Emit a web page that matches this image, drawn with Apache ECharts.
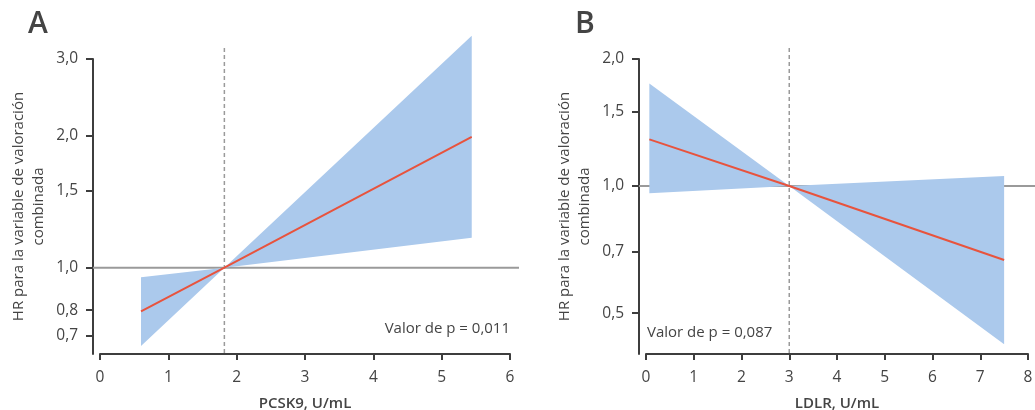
<!DOCTYPE html>
<html>
<head>
<meta charset="utf-8">
<script src="https://cdn.jsdelivr.net/npm/echarts@6/dist/echarts.min.js"></script>
<style>
html,body{margin:0;padding:0;background:#fff;}
#chart{width:1035px;height:410px;}
</style>
</head>
<body>
<div id="chart"></div>
<script>
// ---- Data (HR values) ----
const pcsk9X     = [0.6, 1.82, 5.44];
const pcsk9HR    = [0.795, 1.0, 1.99];
const pcsk9Lower = [0.662, 1.0, 1.171];
const pcsk9Upper = [0.951, 1.0, 3.39];

const ldlrX      = [0.07, 3.0, 7.5];
const ldlrHR     = [1.29, 1.0, 0.668];
const ldlrLower  = [0.961, 1.0, 0.422];
const ldlrUpper  = [1.75, 1.0, 1.056];

const yTicksA = [0.7, 0.8, 1.0, 1.5, 2.0, 3.0];
const yTicksB = [0.5, 0.7, 1.0, 1.5, 2.0];
const yRangeA = [0.635, 3.0];
const yRangeB = [0.4, 2.0];
const xRangeA = [0, 6];
const xRangeB = [0, 8];
const refXA = 1.82;
const refXB = 3;

const panelLabels = ['A', 'B'];
const pTextA = 'Valor de p = 0,011';
const pTextB = 'Valor de p = 0,087';
const yName = 'HR para la variable de valoración\ncombinada';
const xNameA = 'PCSK9, U/mL';
const xNameB = 'LDLR, U/mL';

// ---- Styling ----
const FONT = '"Open Sans", "Noto Sans", sans-serif';
const TXT = '#444';
const AXIS = '#3d3d3d';
const BAND = '#abc9ec';
const RED = '#e8533d';
const GRAY = '#9a9a9a';

const ln = Math.log;
const fmt = v => Math.exp(v).toFixed(1).replace('.', ',');

function xAxisCfg(idx, range, name) {
  return {
    type: 'value', gridIndex: idx, min: range[0], max: range[1], interval: 1,
    name: name, nameLocation: 'middle', nameGap: 42,
    nameTextStyle: {fontFamily: FONT, fontSize: 15, fontWeight: 600, color: TXT},
    axisLine: {onZero: false, lineStyle: {color: AXIS, width: 2}},
    axisTick: {length: 6, lineStyle: {color: AXIS, width: 2}},
    axisLabel: {fontFamily: FONT, fontSize: 15.5, color: TXT, margin: 16},
    splitLine: {show: false}
  };
}
function yAxisCfg(idx, range, ticks) {
  const cv = ticks.map(ln);
  return {
    type: 'value', gridIndex: idx, min: ln(range[0]), max: ln(range[1]),
    offset: 7,
    name: yName, nameLocation: 'middle', nameGap: 44,
    nameTextStyle: {fontFamily: FONT, fontSize: 15, color: TXT, lineHeight: 20, align: 'center'},
    axisLine: {onZero: false, lineStyle: {color: AXIS, width: 2}},
    axisTick: {customValues: cv, length: 7, lineStyle: {color: AXIS, width: 2}},
    axisLabel: {customValues: cv, formatter: fmt, fontFamily: FONT, fontSize: 15.5, color: TXT, margin: 15},
    splitLine: {show: false}
  };
}

function hlineSeries(idx, xs, extRight) {
  return {
    type: 'custom', xAxisIndex: idx, yAxisIndex: idx, silent: true, z: 1,
    data: [[xs[0], 0]],
    renderItem: (params, api) => {
      const cs = params.coordSys;
      const y = api.coord([xs[0], ln(1)])[1];
      return {type: 'line', shape: {x1: cs.x - 7, y1: y, x2: cs.x + cs.width + extRight, y2: y},
        style: {stroke: GRAY, lineWidth: 2}};
    }
  };
}
function bandSeries(idx, xs, lo, up) {
  return {
    type: 'custom', xAxisIndex: idx, yAxisIndex: idx, silent: true, z: 2,
    data: xs.map((x, i) => [x, ln(lo[i]), ln(up[i])]),
    encode: {x: 0, y: [1, 2]},
    renderItem: (params, api) => {
      if (params.dataIndex !== 0) return;
      const pts = [];
      for (let i = 0; i < xs.length; i++) pts.push(api.coord([xs[i], ln(up[i])]));
      for (let i = xs.length - 1; i >= 0; i--) pts.push(api.coord([xs[i], ln(lo[i])]));
      return {type: 'polygon', shape: {points: pts}, style: {fill: BAND}};
    }
  };
}
function vlineSeries(idx, refX) {
  return {
    type: 'custom', xAxisIndex: idx, yAxisIndex: idx, silent: true, z: 3,
    data: [[refX, 0]],
    renderItem: (params, api) => {
      const cs = params.coordSys;
      const x = api.coord([refX, 0])[0];
      return {type: 'line', shape: {x1: x, y1: cs.y - 11, x2: x, y2: cs.y + cs.height},
        style: {stroke: GRAY, lineWidth: 1.5, lineDash: [4, 3]}};
    }
  };
}
function hrSeries(idx, xs, hr) {
  return {
    type: 'line', xAxisIndex: idx, yAxisIndex: idx, z: 4, silent: true,
    data: xs.map((x, i) => [x, ln(hr[i])]),
    showSymbol: false, symbol: 'none', clip: false,
    lineStyle: {color: RED, width: 2}
  };
}

const chart = echarts.init(document.getElementById('chart'), null, {renderer: 'canvas'});
chart.setOption({
  animation: false,
  backgroundColor: '#fff',
  title: [
    {text: panelLabels[0], left: 28, top: 9, padding: 0, textStyle: {fontFamily: FONT, fontSize: 30, fontWeight: 600, color: TXT}},
    {text: panelLabels[1], left: 575, top: 9, padding: 0, textStyle: {fontFamily: FONT, fontSize: 30, fontWeight: 600, color: TXT}}
  ],
  grid: [
    {left: 100, top: 59, width: 410, height: 295, outerBoundsMode: 'none', containLabel: false},
    {left: 646, top: 59, width: 382, height: 295, outerBoundsMode: 'none', containLabel: false}
  ],
  xAxis: [xAxisCfg(0, xRangeA, xNameA), xAxisCfg(1, xRangeB, xNameB)],
  yAxis: [yAxisCfg(0, yRangeA, yTicksA), yAxisCfg(1, yRangeB, yTicksB)],
  graphic: [
    {type: 'text', right: 1035 - 510, top: 321, style: {text: pTextA, font: '15px ' + FONT, fill: TXT}},
    {type: 'text', left: 647, top: 325, style: {text: pTextB, font: '15px ' + FONT, fill: TXT}}
  ],
  series: [
    hlineSeries(0, pcsk9X, 9),
    bandSeries(0, pcsk9X, pcsk9Lower, pcsk9Upper),
    vlineSeries(0, refXA),
    hrSeries(0, pcsk9X, pcsk9HR),
    hlineSeries(1, ldlrX, 7),
    bandSeries(1, ldlrX, ldlrLower, ldlrUpper),
    vlineSeries(1, refXB),
    hrSeries(1, ldlrX, ldlrHR)
  ]
});
</script>
</body>
</html>
